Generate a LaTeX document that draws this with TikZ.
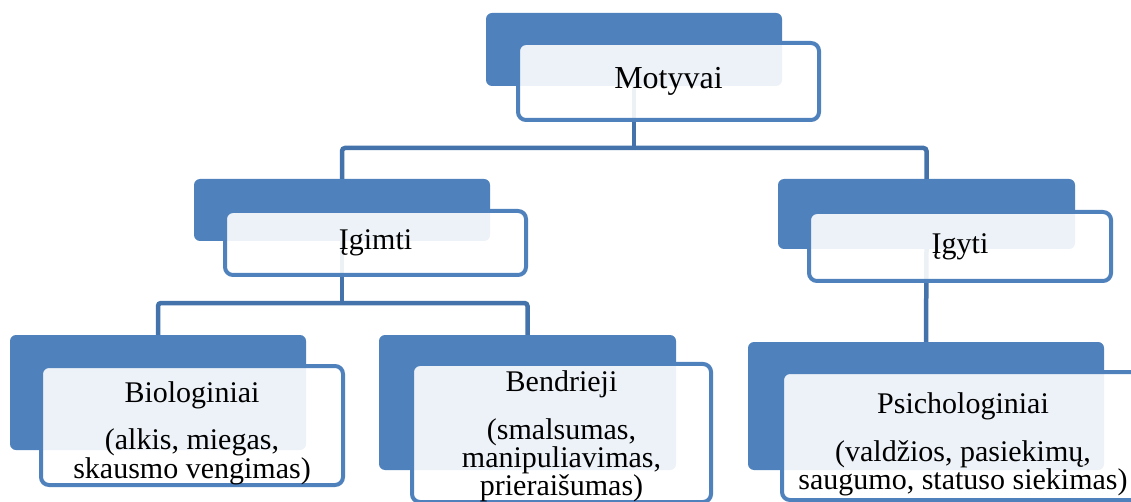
\documentclass[tikz,border=0pt]{standalone}
\usepackage{fontspec}
\setmainfont{Liberation Serif}
\definecolor{accent}{RGB}{79,129,189}
\definecolor{linkblue}{RGB}{68,114,170}
\begin{document}
\begin{tikzpicture}[x=1pt,y=-1pt,
  backbox/.style={draw=none, fill=accent, rounded corners=6pt, inner sep=0pt},
  frontbox/.style={draw=accent, line width=4pt, fill=white, fill opacity=0.9,
    text opacity=1, rounded corners=8pt, inner sep=0pt, align=center},
  bodytext/.style={font=\fontsize{30}{25}\selectfont},
  link/.style={draw=linkblue, line width=4.5pt, rounded corners=3pt}]
\useasboundingbox (0,0) rectangle (1131,502);
\clip (0,0) rectangle (1131,502);

% junction points of the tree connectors
\coordinate (j1) at (634,148);
\coordinate (j2) at (342,303);

% back (solid) boxes
\node[backbox, minimum width=296pt, minimum height=73pt] (motB) at (634,49.5) {};
\node[backbox, minimum width=296pt, minimum height=62pt] (igiB) at (342,210) {};
\node[backbox, minimum width=297pt, minimum height=70pt] (igyB) at (926.5,214) {};
\node[backbox, minimum width=296pt, minimum height=115pt] (bioB) at (158,392.5) {};
\node[backbox, minimum width=297pt, minimum height=135pt] (benB) at (527.5,402.5) {};
\node[backbox, minimum width=356pt, minimum height=128pt] (psiB) at (926,406) {};

% connectors
\draw[link] (motB.south) -- (j1);
\draw[link] (igiB.north) |- (j1) -| (igyB.north);
\draw[link] (igiB.south) -- (j2);
\draw[link] (bioB.north) |- (j2) -| (benB.north);
\draw[link] (igyB.south) -- (psiB.north);

% front (framed) boxes with the labels
\node[frontbox, font=\fontsize{32}{32}\selectfont, minimum width=301pt, minimum height=77pt]
  (mot) at (668.5,81.5) {Motyvai};
\node[frontbox, bodytext, minimum width=301pt, minimum height=64pt]
  (igi) at (375.5,243) {Įgimti};
\node[frontbox, bodytext, minimum width=302pt, minimum height=69pt]
  (igy) at (960,246.5) {Įgyti};
\node[frontbox, bodytext, minimum width=302pt, minimum height=119pt]
  (bio) at (192,425.5) {\rule{0pt}{36pt}Biologiniai\\[19pt](alkis, miegas,\\skausmo vengimas)};
\node[frontbox, bodytext, minimum width=299pt, minimum height=131pt]
  (ben) at (561.5,433) {\rule{0pt}{28pt}Bendrieji\\[19pt](smalsumas,\\manipuliavimas,\\prieraišumas)};
\node[frontbox, bodytext, minimum width=362pt, minimum height=128pt]
  (psi) at (963,436) {\rule{0pt}{38pt}Psichologiniai\\[19pt](valdžios, pasiekimų,\\saugumo, statuso siekimas)};
\end{tikzpicture}
\end{document}
